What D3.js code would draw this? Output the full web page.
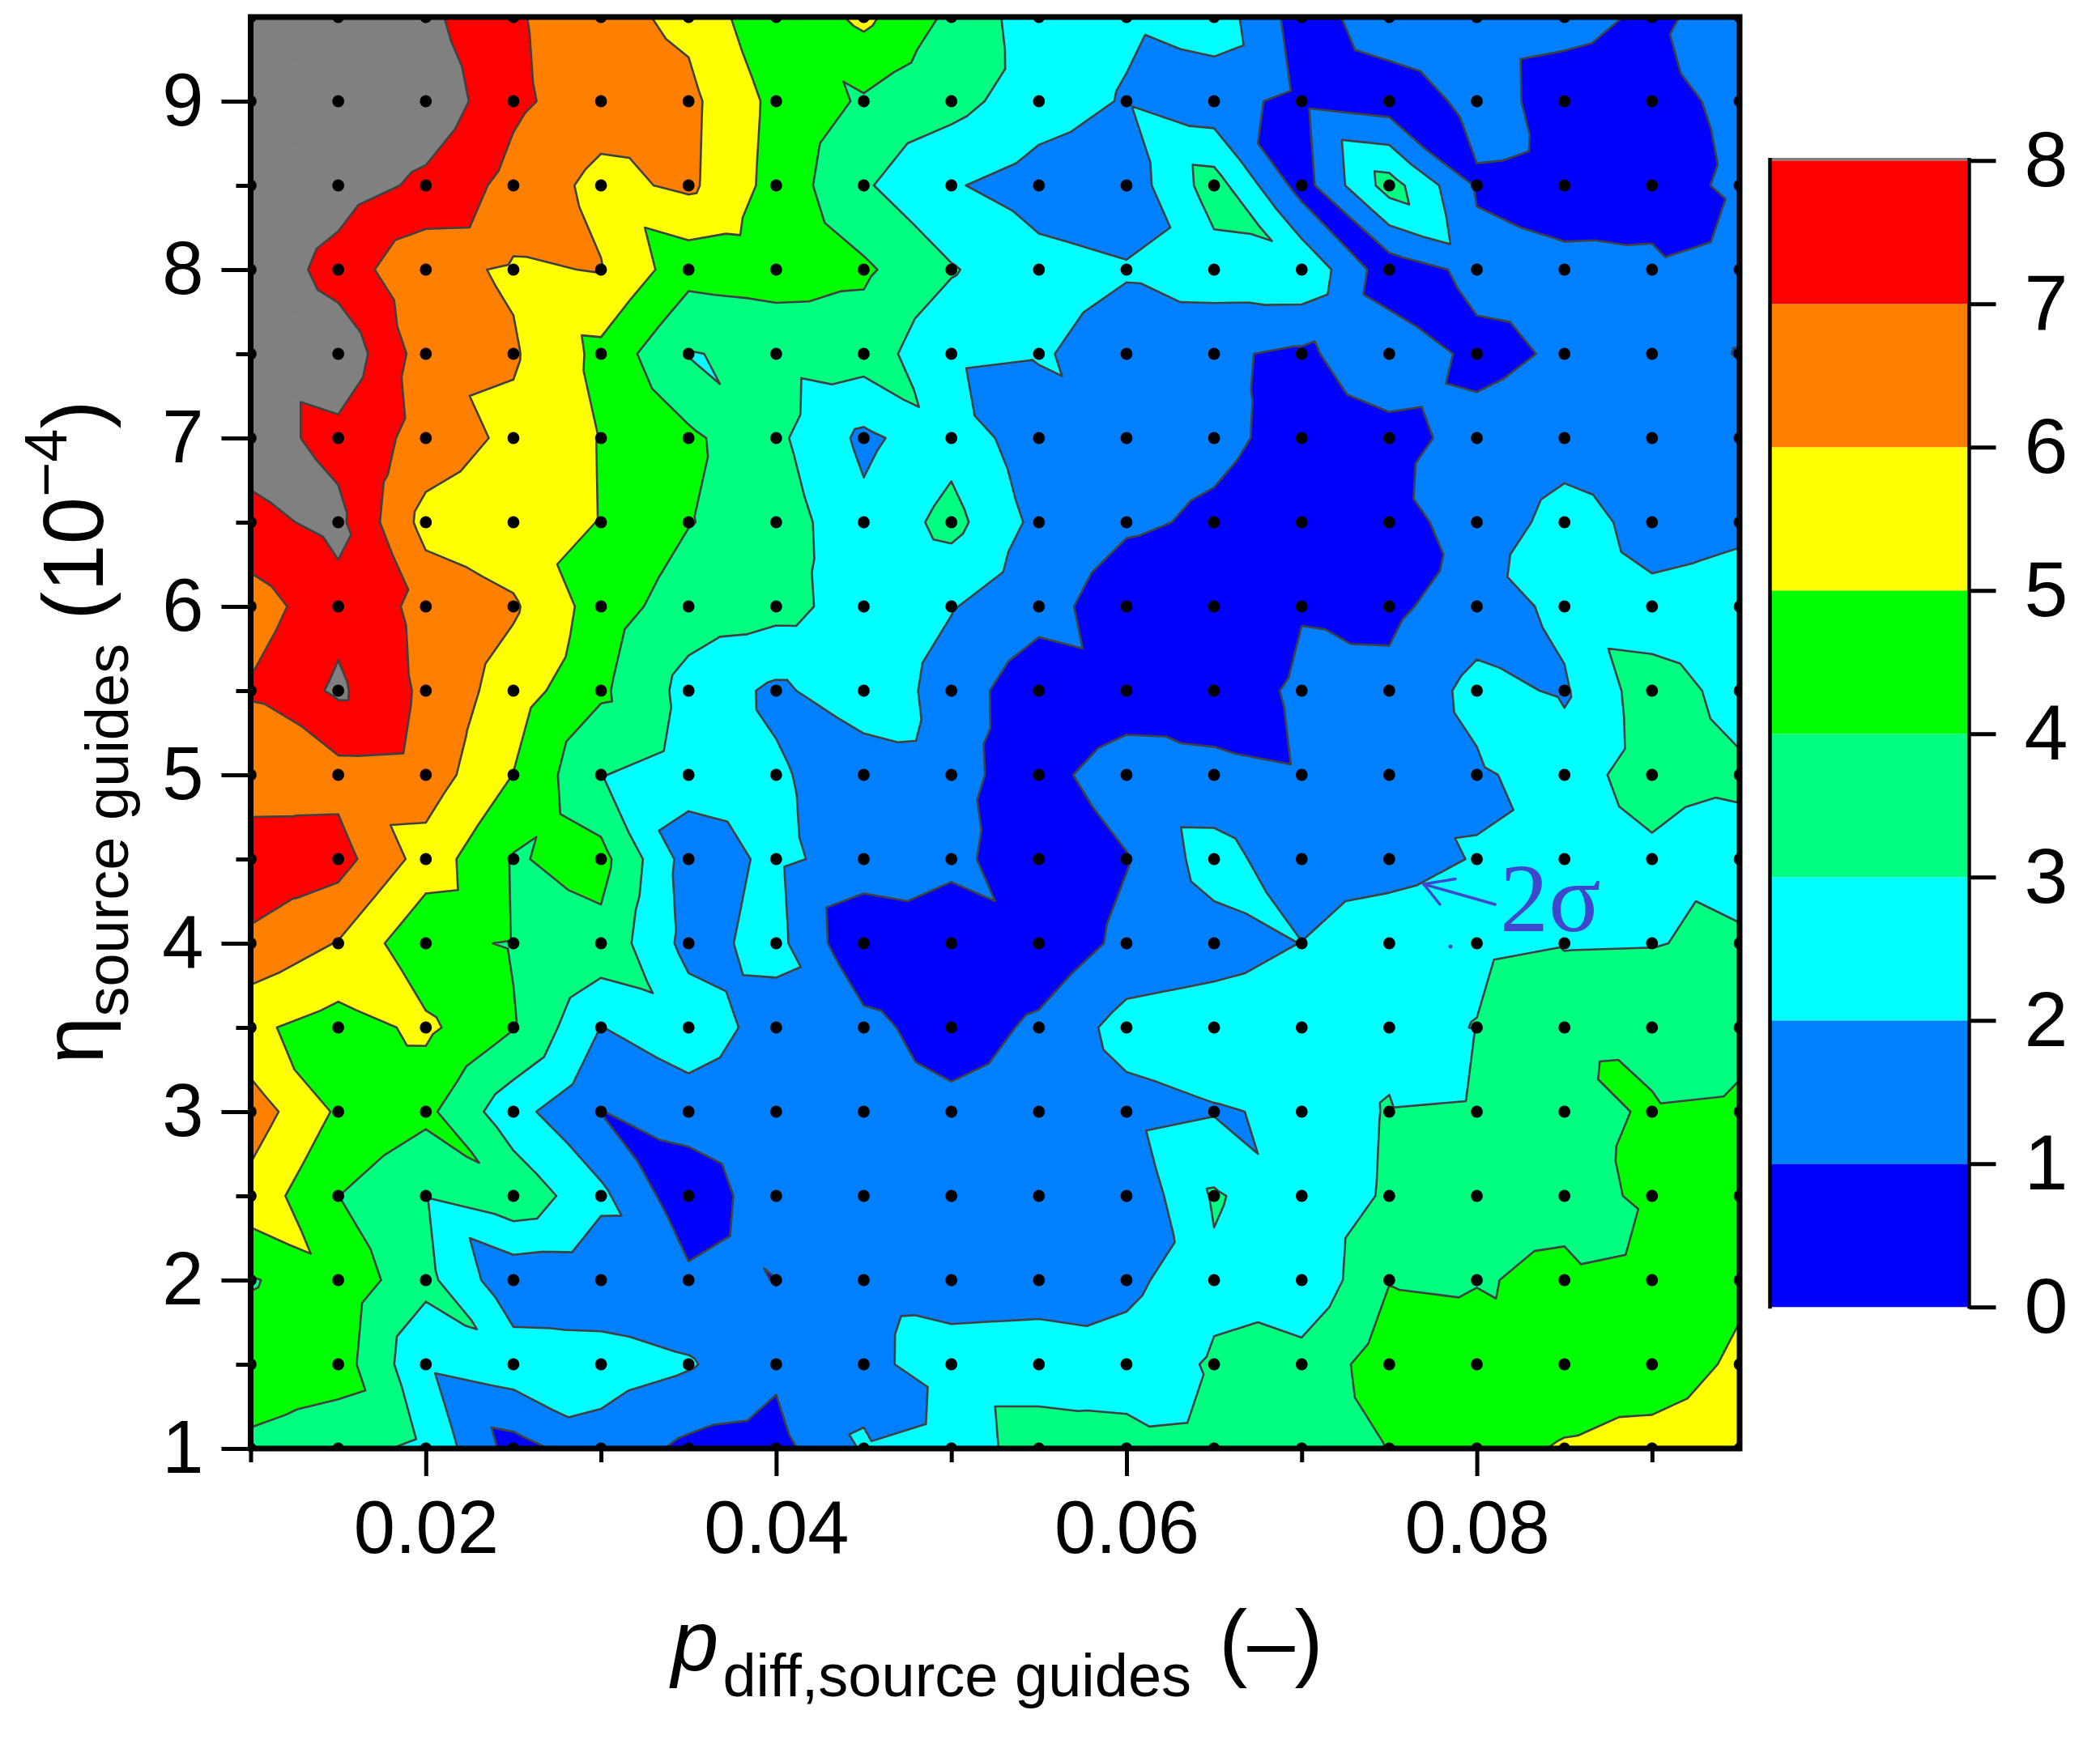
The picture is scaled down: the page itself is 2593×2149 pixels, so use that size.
<!DOCTYPE html>
<html>
<head>
<meta charset="utf-8">
<script src="https://cdn.jsdelivr.net/npm/d3@7"></script>
<style>
  html, body { margin: 0; padding: 0; background: #fff; }
  svg { display: block; }
  text { font-family: "Liberation Sans", Arial, sans-serif; fill: #000; }
</style>
</head>
<body>
<script>
var xValues = [0.01, 0.015, 0.02, 0.025, 0.03, 0.035, 0.04, 0.045, 0.05, 0.055, 0.06, 0.065, 0.07, 0.075, 0.08, 0.085, 0.09, 0.095];
var yValues = [9.5, 9, 8.5, 8, 7.5, 7, 6.5, 6, 5.5, 5, 4.5, 4, 3.5, 3, 2.5, 2, 1.5, 1];

// one list per row, top row first
var row95 = [9.6, 9.1, 8.23, 7.13, 6.3, 5.78, 4.16, 5.24, 3.78, 2.41, 2.14, 2.62, 0.49, 1.62, 1.6, 1.18, 0.91, 1.2];
var row90 = [9.3, 9.0, 8.79, 7.18, 6.5, 6.24, 4.73, 3.87, 3.35, 2.43, 1.93, 1.3, 0.77, 0.43, 1.28, 0.73, 0.75, 1.19];
var row85 = [9.0, 8.6, 7.75, 6.69, 5.7, 6.2, 4.64, 3.12, 2.08, 1.6, 1.4, 3.48, 0.57, 3.45, 0.9, 0.7, 0.8, 1.1];
var row80 = [8.95, 7.5, 6.3, 5.87, 6.05, 4.36, 4.5, 4.17, 3.08, 2.3, 2.08, 2.56, 2.83, 0.39, 1.3, 1.15, 1.09, 1.4];
var row75 = [9.0, 8.77, 6.5, 6.11, 4.74, 2.95, 3.23, 3.45, 2.3, 2.1, 1.55, 1.15, 0.82, 1.67, 0.75, 1.12, 1.3, 0.97];
var row70 = [8.4, 7.7, 6.64, 5.75, 4.97, 4.2, 3.21, 1.78, 2.66, 1.34, 1.3, 1.2, 0.72, 0.7, 1.3, 1.5, 1.5, 1.5];
var row65 = [7.75, 8.24, 5.64, 5.3, 4.98, 4.04, 3.54, 2.25, 3.32, 1.71, 1.15, 0.86, 0.5, 0.75, 1.29, 2.43, 1.66, 1.87];
var row60 = [6.5, 7.7, 6.72, 6.13, 4.52, 3.46, 3.35, 2.54, 2.05, 1.43, 0.36, 0.3, 0.97, 0.8, 1.49, 2.26, 2.22, 2.3];
var row55 = [7.1, 8.17, 6.78, 5.5, 4.17, 2.67, 1.8, 2.67, 1.59, 0.25, 0.45, 0.7, 1.1, 1.23, 2.3, 1.88, 3.6, 2.55];
var row50 = [6.3, 6.65, 6.55, 4.98, 3.05, 2.35, 2.15, 1.35, 1.2, 0.68, 1.5, 1.15, 1.05, 1.5, 1.85, 2.47, 3.55, 3.2];
var row45 = [7.7, 7.4, 5.58, 3.92, 4.34, 1.54, 2.19, 1.63, 1.3, 0.27, 0.95, 2.5, 1.2, 1.6, 2.06, 2.5, 2.75, 2.6];
var row40 = [6.8, 5.95, 4.16, 3.95, 3.71, 1.67, 2.31, 0.09, 0.2, 0.25, 1.26, 1.5, 2.02, 2.6, 2.7, 2.95, 2.97, 3.13];
var row35 = [5.18, 4.58, 5.21, 4.05, 1.98, 2.6, 1.55, 1.32, 0.46, 1.2, 2.38, 2.6, 2.7, 2.6, 3.04, 3.5, 3.6, 3.5];
var row30 = [6.54, 4.85, 4.25, 2.36, 0.98, 1.5, 1.4, 1.4, 1.3, 1.4, 1.66, 1.93, 2.13, 3.1, 3.3, 3.6, 4.13, 4.3];
var row25 = [5.65, 4.01, 3.05, 3.75, 2.22, 0.3, 1.67, 1.5, 1.5, 1.5, 1.16, 3.12, 2.26, 3.14, 3.5, 3.7, 4.15, 4.3];
var row20 = [3.91, 4.68, 3.29, 1.25, 1.3, 1.2, 0.985, 1.3, 1.4, 1.4, 1.7, 2.8, 2.14, 3.97, 3.93, 4.2, 4.5, 4.9];
var row15 = [4.6, 4.49, 2.16, 2.6, 2.45, 2.1, 1.2, 1.7, 2.55, 2.7, 2.5, 3.1, 3.4, 4.47, 4.7, 4.8, 4.7, 5.1];
var row10 = [3.8, 3.31, 2.8, 0.6, 1.6, 0.77, 0.65, 2.1, 2.65, 3.3, 3.35, 3.5, 3.6, 4.02, 4.88, 5.03, 5.2, 5.6];

// value read at the middle of a cell where it is not the mean of its corners: column, row, value
var cellMiddles = [
  [0, 4, 8.05], [0, 5, 8.29], [1, 2, 7.3], [2, 2, 7.0], [3, 2, 6.3], [5, 4, 3.02], [2, 4, 6.0], [3, 3, 5.33],
  [4, 2, 5.0], [5, 2, 5.11], [6, 0, 4.15], [6, 1, 4.0], [7, 1, 3.0], [7, 3, 3.14], [7, 4, 3.12], [6, 4, 2.83],
  [8, 4, 1.42], [9, 4, 1.91], [10, 1, 2.5], [10, 2, 2.0], [11, 1, 1.0], [11, 0, 1.7], [11, 2, 3.08], [12, 1, 2.11],
  [12, 2, 0.49], [13, 1, 0.55], [13, 2, 2.46], [13, 3, 0.62], [14, 0, 1.0], [14, 1, 1.07], [14, 2, 1.0], [16, 0, 1.13],
  [16, 1, 0.9], [16, 2, 0.79], [8, 0, 3.17], [10, 0, 1.81], [13, 5, 1.2], [13, 6, 0.91], [14, 6, 2.22], [14, 7, 1.74],
  [14, 8, 2.68], [15, 7, 3.0], [15, 8, 2.66], [16, 9, 2.83], [16, 10, 3.0], [14, 9, 2.03], [13, 9, 1.94], [12, 10, 2.0],
  [11, 10, 2.2], [10, 9, 1.84], [11, 8, 0.85], [9, 7, 1.0], [6, 8, 1.6], [7, 8, 2.19], [8, 10, 1.0], [7, 10, 1.0],
  [6, 10, 1.16], [6, 11, 1.76], [5, 11, 1.9], [4, 11, 3.09], [3, 10, 3.88], [2, 10, 4.79], [1, 9, 6.1], [1, 8, 7.43],
  [0, 8, 6.78], [1, 6, 7.42], [3, 6, 5.0], [3, 7, 5.2], [3, 8, 4.25], [4, 7, 3.56], [4, 8, 3.5], [4, 9, 2.22],
  [1, 11, 5.6], [0, 12, 5.0], [0, 14, 5.19], [2, 12, 3.9], [3, 12, 2.55], [2, 13, 4.07], [4, 13, 0.75], [4, 14, 1.75],
  [3, 14, 2.36], [2, 14, 2.0], [1, 15, 3.43], [2, 15, 3.08], [1, 16, 3.7], [2, 16, 1.4], [3, 16, 2.14], [6, 16, 1.8],
  [7, 15, 2.12], [7, 16, 1.53], [9, 15, 1.95], [8, 16, 3.0], [10, 16, 2.68], [10, 13, 2.42], [11, 13, 2.0], [10, 14, 1.91],
  [11, 15, 3.0], [12, 14, 3.0], [13, 12, 2.1], [14, 11, 3.47], [15, 12, 4.12], [16, 12, 3.47], [15, 13, 3.97], [15, 14, 3.67],
  [14, 14, 3.91], [14, 15, 4.09], [13, 15, 4.1], [16, 16, 5.07]
];

var levels = [1, 2, 3, 4, 5, 6, 7, 8];
var levelColors = ["#0000ff", "#0080ff", "#00ffff", "#00ff80", "#00ff00", "#ffff00", "#ff8000", "#ff0000", "#808080"];
var xTicks = [0.02, 0.04, 0.06, 0.08];
var xMinorTicks = [0.01, 0.03, 0.05, 0.07, 0.09];
var yTicks = [1, 2, 3, 4, 5, 6, 7, 8, 9];
var yMinorTicks = [1.5, 2.5, 3.5, 4.5, 5.5, 6.5, 7.5, 8.5];
var barTicks = [0, 1, 2, 3, 4, 5, 6, 7, 8];

var width = 2593,
  height = 2149;

var x = d3.scaleLinear().domain([0.01, 0.095]).range([309.5, 2148]);
var y = d3.scaleLinear().domain([1, 9.5]).range([1789, 21]);
var barY = d3.scaleLinear().domain([0, 8]).range([1614.3, 198.3]);

var rows = [row95, row90, row85, row80, row75, row70, row65, row60, row55, row50, row45, row40, row35, row30, row25, row20, row15, row10];

var middles = {};
cellMiddles.forEach(function(d) {
  middles[d[0] + "," + d[1]] = d[2];
});

// every grid cell is cut into four triangles around its middle
var triangles = [];
d3.range(xValues.length - 1).forEach(function(i) {
  d3.range(yValues.length - 1).forEach(function(j) {
    var tl = { px: x(xValues[i]), py: y(yValues[j]), v: rows[j][i] },
      tr = { px: x(xValues[i + 1]), py: y(yValues[j]), v: rows[j][i + 1] },
      br = { px: x(xValues[i + 1]), py: y(yValues[j + 1]), v: rows[j + 1][i + 1] },
      bl = { px: x(xValues[i]), py: y(yValues[j + 1]), v: rows[j + 1][i] };
    var key = i + "," + j;
    var mid = {
      px: (tl.px + tr.px) / 2,
      py: (tl.py + bl.py) / 2,
      v: key in middles ? middles[key] : (tl.v + tr.v + br.v + bl.v) / 4
    };
    triangles.push([tl, tr, mid], [tr, br, mid], [br, bl, mid], [bl, tl, mid]);
  });
});

function crossing(a, b, level) {
  var t = (level - a.v) / (b.v - a.v);
  return [a.px + t * (b.px - a.px), a.py + t * (b.py - a.py)];
}

// area at or above the level, and the line where it stops
function levelPaths(level) {
  var area = d3.path(),
    edge = d3.path();
  triangles.forEach(function(tri) {
    var poly = [],
      cuts = [];
    tri.forEach(function(a, k) {
      var b = tri[(k + 1) % 3];
      if (a.v >= level) poly.push([a.px, a.py]);
      if ((a.v >= level) !== (b.v >= level)) {
        var c = crossing(a, b, level);
        poly.push(c);
        cuts.push(c);
      }
    });
    if (poly.length) {
      area.moveTo(poly[0][0], poly[0][1]);
      poly.slice(1).forEach(function(p) { area.lineTo(p[0], p[1]); });
      area.closePath();
    }
    if (cuts.length === 2) {
      edge.moveTo(cuts[0][0], cuts[0][1]);
      edge.lineTo(cuts[1][0], cuts[1][1]);
    }
  });
  return { area: area.toString(), edge: edge.toString() };
}

var bands = levels.map(levelPaths);

var svg = d3.select("body").append("svg")
  .attr("width", width)
  .attr("height", height);

svg.append("clipPath")
  .attr("id", "plot-clip")
  .append("rect")
  .attr("x", x(0.01))
  .attr("y", y(9.5))
  .attr("width", x(0.095) - x(0.01))
  .attr("height", y(1) - y(9.5));

var plot = svg.append("g").attr("clip-path", "url(#plot-clip)");

// below the first level
plot.append("rect")
  .attr("x", x(0.01))
  .attr("y", y(9.5))
  .attr("width", x(0.095) - x(0.01))
  .attr("height", y(1) - y(9.5))
  .style("fill", levelColors[0]);

plot.selectAll(".band")
  .data(bands)
  .enter().append("path")
  .attr("class", "band")
  .attr("d", function(d) { return d.area; })
  .style("fill", function(d, i) { return levelColors[i + 1]; })
  .style("stroke", function(d, i) { return levelColors[i + 1]; })
  .style("stroke-width", 0.6);

plot.selectAll(".contour")
  .data(bands)
  .enter().append("path")
  .attr("class", "contour")
  .attr("d", function(d) { return d.edge; })
  .style("fill", "none")
  .style("stroke", "#404040")
  .style("stroke-width", 2.6)
  .style("stroke-linecap", "round");

// measured points
var points = [];
yValues.forEach(function(vy) {
  xValues.forEach(function(vx) {
    points.push([vx, vy]);
  });
});

plot.selectAll(".pt")
  .data(points)
  .enter().append("circle")
  .attr("class", "pt")
  .attr("cx", function(d) { return x(d[0]); })
  .attr("cy", function(d) { return y(d[1]); })
  .attr("r", 7.4)
  .style("fill", "#000");

// axes
function styleAxis(g, tickWidth) {
  g.selectAll(".domain").remove();
  g.selectAll(".tick line").style("stroke", "#000").style("stroke-width", tickWidth);
}

svg.append("g")
  .attr("transform", "translate(0," + y(1) + ")")
  .call(d3.axisBottom(x).tickValues(xMinorTicks).tickSize(17).tickFormat(""))
  .call(styleAxis, 5);

svg.append("g")
  .attr("transform", "translate(0," + y(1) + ")")
  .call(d3.axisBottom(x).tickValues(xTicks).tickSize(34).tickPadding(30).tickFormat(d3.format(".2f")))
  .call(styleAxis, 5)
  .selectAll("text")
  .style("font-size", "92px");

svg.append("g")
  .attr("transform", "translate(" + x(0.01) + ",0)")
  .call(d3.axisLeft(y).tickValues(yMinorTicks).tickSize(18).tickFormat(""))
  .call(styleAxis, 5);

svg.append("g")
  .attr("transform", "translate(" + x(0.01) + ",0)")
  .call(d3.axisLeft(y).tickValues(yTicks).tickSize(36).tickPadding(22).tickFormat(d3.format("d")))
  .call(styleAxis, 5)
  .selectAll("text")
  .style("font-size", "92px");

svg.append("rect")
  .attr("x", x(0.01))
  .attr("y", y(9.5))
  .attr("width", x(0.095) - x(0.01))
  .attr("height", y(1) - y(9.5))
  .style("fill", "none")
  .style("stroke", "#000")
  .style("stroke-width", 7);

// colour bar
svg.append("g").selectAll("rect")
  .data(barTicks.slice(0, 8))
  .enter().append("rect")
  .attr("x", 2185.5)
  .attr("width", 246)
  .attr("y", function(d) { return barY(d + 1); })
  .attr("height", function(d) { return barY(d) - barY(d + 1); })
  .style("fill", function(d, i) { return levelColors[i]; });

svg.append("rect")
  .attr("x", 2185.5)
  .attr("width", 246)
  .attr("y", 195)
  .attr("height", barY(8) - 195)
  .style("fill", levelColors[8]);

svg.selectAll(".bar-edge")
  .data([2185.5, 2431.5])
  .enter().append("line")
  .attr("class", "bar-edge")
  .attr("x1", function(d) { return d; })
  .attr("x2", function(d) { return d; })
  .attr("y1", 195)
  .attr("y2", barY(0) + 2)
  .style("stroke", "#000")
  .style("stroke-width", 4.5);

svg.append("g")
  .attr("transform", "translate(2431.5,0)")
  .call(d3.axisRight(barY).tickValues(barTicks).tickSize(33).tickPadding(35).tickFormat(d3.format("d")))
  .call(styleAxis, 5)
  .selectAll("text")
  .style("font-size", "97px");

// titles
var xTitle = svg.append("text")
  .attr("x", 829)
  .attr("y", 2063)
  .style("font-size", "105px");
xTitle.append("tspan").style("font-style", "italic").text("p");
xTitle.append("tspan").attr("dy", 32).attr("dx", 5).style("font-size", "74px").text("diff,source guides");
xTitle.append("tspan").attr("dy", -32).attr("dx", 5).text(" (\u2013)");

var yTitle = svg.append("text")
  .attr("transform", "translate(127,1314) rotate(-90)")
  .style("font-size", "105px");
yTitle.append("tspan").text("\u03b7");
yTitle.append("tspan").attr("dy", 31).style("font-size", "74px").text("source guides");
yTitle.append("tspan").attr("dy", -31).text(" (10");
yTitle.append("tspan").attr("dy", -45).style("font-size", "74px").text("\u22124");
yTitle.append("tspan").attr("dy", 45).text(")");

// 2 sigma note
var noteColor = "#3f48cc";
var noteLines = [
  [1846, 1117, 1758, 1092],
  [1758, 1092, 1797, 1085.5],
  [1758, 1092, 1778, 1117]
];
svg.selectAll(".note-line")
  .data(noteLines)
  .enter().append("line")
  .attr("class", "note-line")
  .attr("x1", function(d) { return d[0]; })
  .attr("y1", function(d) { return d[1]; })
  .attr("x2", function(d) { return d[2]; })
  .attr("y2", function(d) { return d[3]; })
  .style("stroke", noteColor)
  .style("stroke-width", 3.5)
  .style("stroke-linecap", "round");

svg.append("circle")
  .attr("cx", 1791)
  .attr("cy", 1169)
  .attr("r", 2.5)
  .style("fill", noteColor);

svg.append("text")
  .attr("x", 1852)
  .attr("y", 1150)
  .style("font-family", "'Liberation Serif', serif")
  .style("font-size", "120px")
  .style("fill", noteColor)
  .text("2\u03c3");
</script>
</body>
</html>
